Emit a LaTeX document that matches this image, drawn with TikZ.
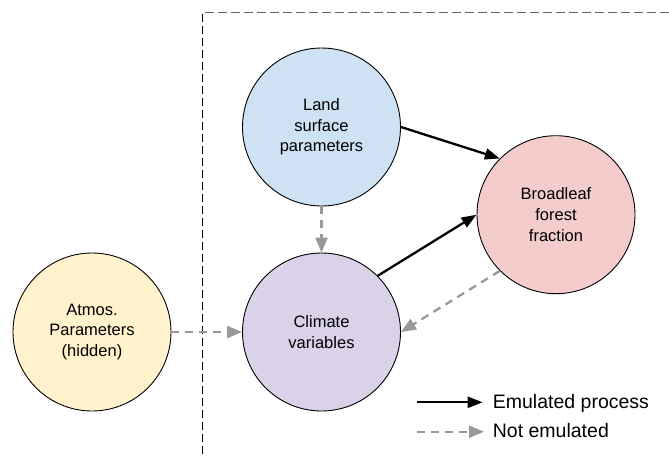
\documentclass[tikz,border=0pt]{standalone}
\usepackage{fontspec}
\setmainfont{Liberation Sans}
\usetikzlibrary{arrows.meta}
\definecolor{landblue}{HTML}{CFE2F3}
\definecolor{leafred}{HTML}{F4CCCC}
\definecolor{atmosyellow}{HTML}{FFF2CC}
\definecolor{climpurple}{HTML}{D9D2E9}
\definecolor{notemu}{HTML}{999999}
\definecolor{boxgray}{HTML}{666666}
\tikzset{
  var/.style={circle, draw=black, line width=0.9pt, minimum size=158pt, inner sep=0pt,
    align=center, font=\fontsize{16.5}{20.7}\selectfont},
  emu/.style={-{Triangle[length=15pt,width=11pt]}, line width=2.3pt, black},
  notemu/.style={-{Triangle[length=15pt,width=12pt]}, line width=2.3pt, color=notemu,
    dash pattern=on 8pt off 6pt},
  legtext/.style={anchor=base west, inner sep=0pt, font=\fontsize{19.5}{23}\selectfont}
}
\begin{document}
\begin{tikzpicture}[x=1pt,y=-1pt]
      \useasboundingbox (0,0) rectangle (669,456);
      % emulator boundary
      \draw[boxgray, line width=1.6pt, dash pattern=on 9pt off 4pt] (205,12.3) -- (669,12.3);
      \draw[black, line width=1pt, dash pattern=on 8pt off 4pt] (202.7,14) -- (202.7,456);
      \draw
        (321.5,127) node[var, fill=landblue] (land){Land\\surface\\parameters}
        (556,214.7) node[var, fill=leafred] (leaf){Broadleaf\\forest\\fraction}
        (92,332) node[var, fill=atmosyellow] (atmos){Atmos.\\Parameters\\(hidden)}
        (321.5,332) node[var, fill=climpurple] (clim){Climate\\variables};
      \begin{scope}[emu]
        \draw (land.east) to (leaf.135);
        \draw (clim.45) to (leaf.west);
      \end{scope}
      \begin{scope}[notemu]
        \draw (land.south) to (clim.north);
        \draw (atmos.east) to (clim.west);
        \draw (leaf.225) to (clim.east);
      \end{scope}
      % legend
      \coordinate (e0) at (416.7,402.3);
      \coordinate (e1) at (482.7,402.3);
      \coordinate (n0) at (416.7,431.7);
      \coordinate (n1) at (484,431.7);
      \draw[emu] (e0) -- (e1);
      \draw[notemu] (n0) -- (n1);
      \node[legtext] (emutext) at (492.7,408.3) {Emulated process};
      \node[legtext] (notemutext) at (492.7,437.3) {Not emulated};
    \end{tikzpicture}
\end{document}
